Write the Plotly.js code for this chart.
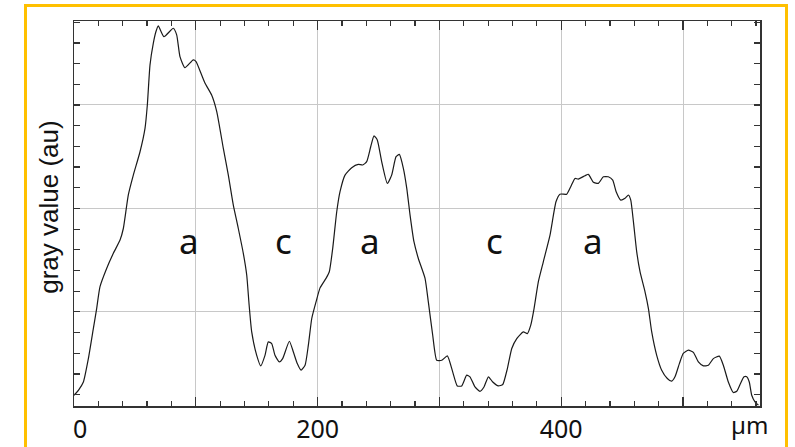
<!DOCTYPE html>
<html>
<head>
<meta charset="utf-8">
<script src="https://cdn.plot.ly/plotly-3.0.1.min.js"></script>
<style>
  html, body { margin: 0; padding: 0; background: #fff; }
  #wrap { position: relative; width: 795px; height: 447px; overflow: hidden; }
  #chart { width: 795px; height: 447px; }
  #frame { position: absolute; left: 24px; top: 4px; width: 758px; height: 470px;
           border: 3px solid #FFC000; pointer-events: none; }
</style>
</head>
<body>
<div id="wrap">
  <div id="chart"></div>
  <div id="frame"></div>
</div>
<script>
// position along the profile (µm)
const positionUm = [
  0, 3.6, 7.7, 11.8, 15.9, 18.6, 21.3, 26.8, 32.3, 37.8, 40.5, 44.6, 48.7, 54.2, 58.3, 60.2,
  62.4, 65.1, 67.3, 69.2, 73.9, 81.5, 84.3, 87, 91.1, 97.9, 100.2, 104.8, 107.6, 113, 117.2,
  122.6, 126.7, 130.8, 134.9, 139, 141.8, 143.8, 145.9, 150, 153.3, 156.8, 159.5, 162.3, 165,
  168.6, 171.3, 176.8, 180.1, 183.3, 186.4, 189.7, 192.4, 195.2, 198.7, 202, 206.9, 209.6,
  212.4, 215.7, 218.4, 222.5, 228, 233.4, 237, 240.3, 243.6, 246.3, 249, 252.6, 257.2, 260.8,
  264.4, 267.1, 270.4, 273.2, 275.9, 279.1, 282.7, 288.2, 290.9, 294.5, 297.8, 301.9, 306.5,
  310.9, 314.7, 318.3, 322.4, 325.1, 329.2, 333.3, 336.6, 340.2, 343.8, 348.4, 352, 355.8,
  359.4, 363.5, 368.9, 372.2, 375, 377.7, 381.2, 385.3, 390.8, 395.7, 399, 404.5, 407.8,
  411.3, 414, 419.5, 422.3, 424.2, 426.4, 430.5, 434.6, 438.7, 442.3, 445.1, 448.9, 452.4,
  455.2, 457.1, 459.3, 462, 464.7, 468.8, 471.6, 474.3, 478.4, 482.5, 487.1, 490.7, 493.4,
  497, 500.2, 504.4, 508.5, 512.6, 516.7, 520.8, 524.9, 529.8, 533.1, 537.2, 541.3, 544.1,
  546.8, 550.1, 552.3, 554.4, 556.4, 559.1, 561.9
];
// gray value (au)
const grayValue = [
  9.7, 12.1, 16.1, 27.4, 42, 51.6, 62.1, 71, 78.3, 84.7, 90.3, 106.5, 116.1, 127.4, 138.7, 150,
  169.4, 179.8, 185.5, 188.2, 183, 187.1, 183.9, 173.4, 168, 171.8, 171, 164.5, 160.5, 154.8, 146.8,
  129, 116.1, 101.6, 90.3, 78.3, 67.8, 53.2, 40.3, 29, 23.9, 29, 35.5, 34.7, 29,
  25.8, 27.4, 35.8, 30.6, 25, 21.8, 24.2, 33.9, 46.8, 54.8, 61.6, 66.2, 69.4,
  80.7, 98.4, 108.1, 116.1, 119.7, 121.3, 121, 122.6, 129.8, 135.1, 133.1, 122.6, 112.1, 116.1,
  125, 126.1, 119.4, 109.7, 96.8, 83.9, 75.8, 66.2, 54.8, 38.7, 26.6, 26.6, 28.7,
  21, 14.2, 14.2, 19.4, 18.6, 13.7, 11.6, 13.7, 18.6, 16.1, 14.2, 14.9, 22.6,
  32.3, 37.1, 40.3, 39.5, 43.6, 51.6, 64.5, 74.2, 87.1, 103.2, 106.9, 106.9, 110.5,
  114.5, 114.2, 115.8, 116.5, 114.8, 112.6, 112.1, 115.3, 115.3, 113.7, 108.1, 104, 104.9,
  106.5, 104, 93.5, 79, 69.4, 59.7, 51.6, 40.3, 29, 21.8, 17.8, 16.5, 18.6,
  25, 29.9, 31.5, 30.4, 25.8, 23.9, 24.2, 27.4, 28.6, 24.2, 16.1, 11, 11.6,
  14.9, 18.6, 18.6, 16.1, 9.7, 6.5, 4.9
];
// region labels
const regionLabels = ["a", "c", "a", "c", "a"];
const regionX = [94.5, 171.8, 243.4, 345, 426];
const regionY = [84.7, 84.7, 84.7, 84.7, 84.7];
// axis ticks
const xTickVals = [0, 100, 200, 300, 400, 500];
const xTickText = ["", "", "200", "", "400", ""];
const yTickVals = [50, 100, 150];

const axisColor = "#333333";
const gridColor = "#c8c8c8";
const labelFont = "'Noto Sans', 'Open Sans', sans-serif";

const trace = {
  x: positionUm, y: grayValue, type: "scatter", mode: "lines",
  line: { color: "#1a1a1a", width: 1.2, shape: "spline", smoothing: 0.5 }, hoverinfo: "skip"
};

const annotations = regionLabels.map((t, i) => ({
  x: regionX[i], y: regionY[i], xref: "x", yref: "y", text: t, showarrow: false,
  font: { family: labelFont, size: 35, color: "#111" },
  xanchor: "center", yanchor: "middle"
}));
// first x tick label, sitting just inside the axis start as in the reference
annotations.push({
  x: xTickVals[0], y: 0, xref: "x", yref: "paper", text: String(xTickVals[0]), showarrow: false,
  font: { family: labelFont, size: 25, color: "#111" },
  xanchor: "center", yanchor: "top", xshift: 6, yshift: -3
});
annotations.push({
  x: 0.985, y: -0.0476, xref: "paper", yref: "paper", text: "µm", showarrow: false,
  font: { family: labelFont, size: 24, color: "#111" },
  xanchor: "center", yanchor: "middle"
});
annotations.push({
  x: -0.0364, y: 0.515, xref: "paper", yref: "paper", text: "gray value (au)", showarrow: false,
  textangle: -90,
  font: { family: "'Liberation Sans', Arial, sans-serif", size: 26, color: "#111" },
  xanchor: "center", yanchor: "middle"
});

const layout = {
  width: 795, height: 447,
  margin: { l: 74, r: 35, t: 21, b: 41.3, pad: 0 },
  paper_bgcolor: "#ffffff", plot_bgcolor: "#ffffff",
  showlegend: false,
  xaxis: {
    range: [0, 563.2], tickmode: "array", tickvals: xTickVals, ticktext: xTickText,
    ticks: "inside", ticklen: 9, tickwidth: 1.3, tickcolor: axisColor,
    showline: true, linecolor: axisColor, linewidth: 1.5, mirror: "allticks",
    showgrid: true, gridcolor: gridColor, gridwidth: 1, zeroline: false,
    tickfont: { family: labelFont, size: 25, color: "#111" },
    minor: { dtick: 20, ticks: "inside", ticklen: 5, tickwidth: 1.2, tickcolor: axisColor, showgrid: false },
    fixedrange: true
  },
  yaxis: {
    range: [4.5, 190.6], tickmode: "array", tickvals: yTickVals,
    ticks: "inside", ticklen: 6, tickwidth: 1.2, tickcolor: axisColor,
    showticklabels: false,
    showline: true, linecolor: axisColor, linewidth: 1.5, mirror: "allticks",
    showgrid: true, gridcolor: gridColor, gridwidth: 1, zeroline: false,
    minor: { dtick: 10, tick0: 0, ticks: "inside", ticklen: 6, tickwidth: 1.2, tickcolor: axisColor, showgrid: false },
    fixedrange: true
  },
  annotations: annotations
};

Plotly.newPlot("chart", [trace], layout, { staticPlot: true, displayModeBar: false });
</script>
</body>
</html>
